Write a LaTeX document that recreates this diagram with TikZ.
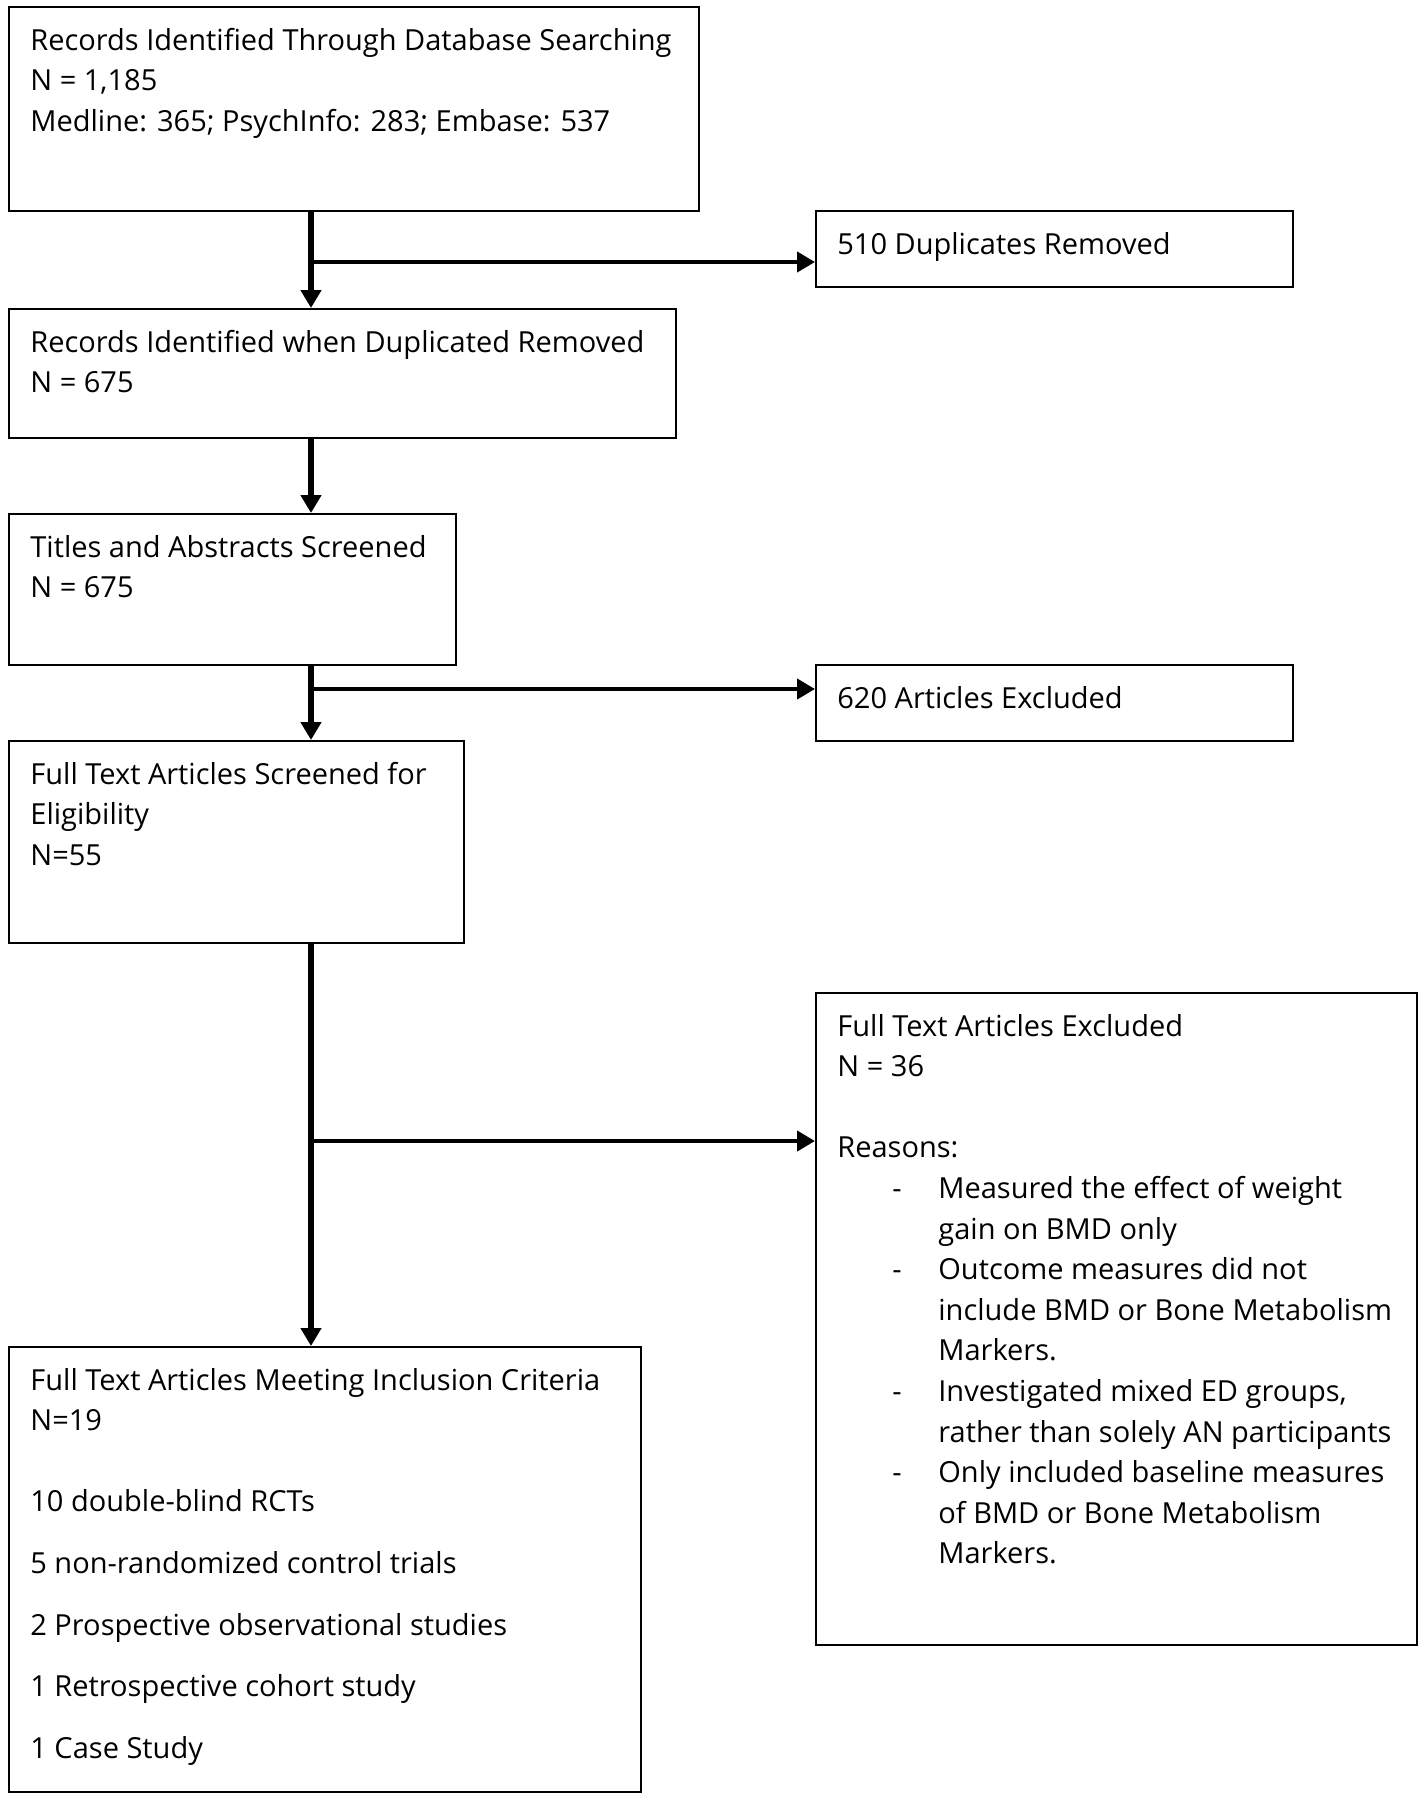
\documentclass[tikz,border=0pt]{standalone}
\usepackage{fontspec}
\setmainfont{Open Sans}
\usetikzlibrary{arrows.meta,positioning}

\newcommand{\dashitem}{\hspace*{27.5pt}\makebox[23pt][l]{-}}
\newcommand{\dashcont}{\hspace*{50.5pt}}

\tikzset{
  flowbox/.style={draw, line width=1.1pt, anchor=north west, inner sep=0pt},
  boxtext/.style={anchor=north west, align=left, inner xsep=11pt, inner ysep=7.6pt,
    font=\fontsize{14.5}{20.3}\selectfont},
  trunk/.style={line width=2.8pt, -{Triangle[length=9pt,width=10pt]}},
  branch/.style={line width=2.1pt, -{Triangle[length=9pt,width=10pt]}}
}

\begin{document}
\begin{tikzpicture}[x=0.5pt,y=-0.5pt]
    \useasboundingbox (0,0) rectangle (1425,1800);
    % boxes
    \node(recs)   [flowbox, minimum width=345pt,   minimum height=102pt]  at (8,6) {};
    \node(dup)    [flowbox, minimum width=238.5pt, minimum height=38pt]   at (815,210) {};
    \node(dedup)  [flowbox, minimum width=333.5pt, minimum height=64.5pt] at (8,308) {};
    \node(screen) [flowbox, minimum width=223.5pt, minimum height=75.5pt] at (8,513) {};
    \node(absx)   [flowbox, minimum width=238.5pt, minimum height=38pt]   at (815,664) {};
    \node(elig)   [flowbox, minimum width=227.5pt, minimum height=101pt]  at (8,740) {};
    \node(ftx)    [flowbox, minimum width=300.5pt, minimum height=326pt]  at (815,992) {};
    \node(incl)   [flowbox, minimum width=316pt,   minimum height=222.5pt] at (8,1346) {};
    % texts
    \node(recstxt) [boxtext] at (recs.north west)
      {\strut Records Identified Through Database Searching\\N = 1,185\\Medline: 365; PsychInfo: 283; Embase: 537};
    \node(duptxt) [boxtext] at (dup.north west) {\strut 510 Duplicates Removed};
    \node(deduptxt) [boxtext] at (dedup.north west)
      {\strut Records Identified when Duplicated Removed\\N = 675};
    \node(screentxt) [boxtext] at (screen.north west)
      {\strut Titles and Abstracts Screened\\N = 675};
    \node(absxtxt) [boxtext] at (absx.north west) {\strut 620 Articles Excluded};
    \node(eligtxt) [boxtext] at (elig.north west)
      {\strut Full Text Articles Screened for\\Eligibility\\N=55};
    \node(ftxtxt) [boxtext] at (ftx.north west)
      {\strut Full Text Articles Excluded\\N = 36\\[20.3pt]
       Reasons:\\
       \dashitem Measured the effect of weight\\
       \dashcont gain on BMD only\\
       \dashitem Outcome measures did not\\
       \dashcont include BMD or Bone Metabolism\\
       \dashcont Markers.\\
       \dashitem Investigated mixed ED groups,\\
       \dashcont rather than solely AN participants\\
       \dashitem Only included baseline measures\\
       \dashcont of BMD or Bone Metabolism\\
       \dashcont Markers.};
    \node(incltxt) [boxtext] at (incl.north west)
      {\strut Full Text Articles Meeting Inclusion Criteria\\N=19\\[20.3pt]
       10 double-blind RCTs\\[10.5pt]
       5 non-randomized control trials\\[10.5pt]
       2 Prospective observational studies\\[10.5pt]
       1 Retrospective cohort study\\[10.5pt]
       1 Case Study};
    % connectors
    \coordinate (j1) at (311,262);
    \coordinate (j2) at (311,689);
    \coordinate (j3) at (311,1141);
    \draw[trunk] (recs.south -| j1) -- (dedup.north -| j1);
    \draw[branch] (j1) -- (j1 -| dup.west);
    \draw[trunk] (dedup.south -| j1) -- (screen.north -| j1);
    \draw[trunk] (screen.south -| j2) -- (elig.north -| j2);
    \draw[branch] (j2) -- (j2 -| absx.west);
    \draw[trunk] (elig.south -| j3) -- (incl.north -| j3);
    \draw[branch] (j3) -- (j3 -| ftx.west);
\end{tikzpicture}
\end{document}
